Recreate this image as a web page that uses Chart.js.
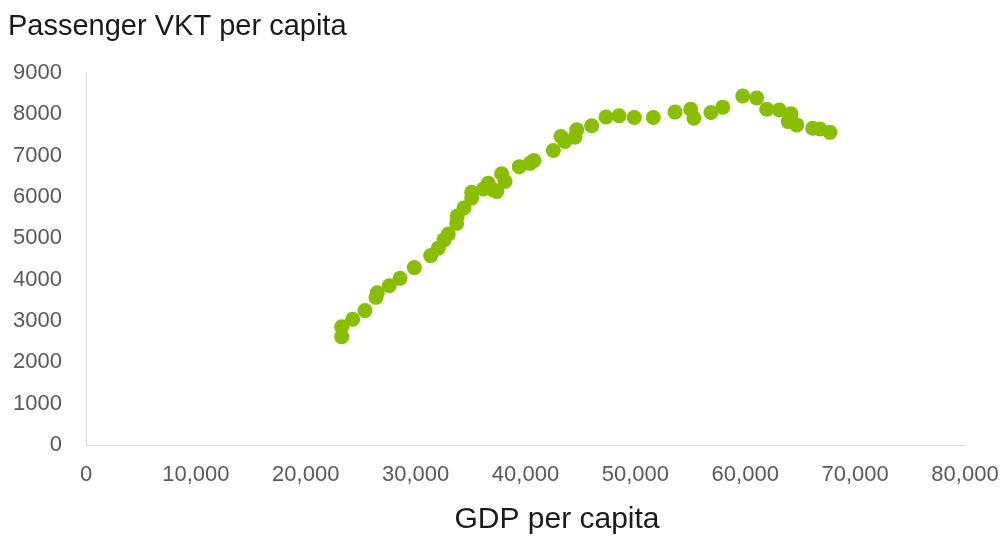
<!DOCTYPE html>
<html>
<head>
<meta charset="utf-8">
<script src="https://cdn.jsdelivr.net/npm/chart.js@4"></script>
<style>
    html, body { margin: 0; padding: 0; background: #fff; }
    #wrap { width: 1005px; height: 538px; }
</style>
</head>
<body>
<div id="wrap"><canvas id="vkt-chart"></canvas></div>
<script>
// GDP per capita (x) and passenger VKT per capita (y)
const gdpPerCapita = [
    23270, 23270, 24270, 25390, 26390, 26510, 27600, 28580, 29880, 31370,
    32060, 32580, 32970, 33740, 33790, 34400, 35100, 35100, 36160, 36610,
    37070, 37380, 37830, 38130, 39440, 40410, 40770, 42530, 43230, 43590,
    44500, 44660, 46020, 47330, 48510, 49900, 51630, 53610, 55030, 55330,
    56880, 57950, 59770, 61040, 61950, 63100, 64160, 63920, 64680, 66140,
    66800, 67710
];
const vktPerCapita = [
    2620, 2860, 3040, 3250, 3570, 3680, 3850, 4030, 4290, 4580,
    4760, 4960, 5100, 5360, 5540, 5730, 5970, 6110, 6190, 6330,
    6170, 6130, 6560, 6370, 6730, 6810, 6880, 7120, 7460, 7340,
    7440, 7620, 7720, 7930, 7960, 7920, 7920, 8050, 8120, 7900,
    8040, 8170, 8440, 8390, 8120, 8100, 8010, 7820, 7740, 7660,
    7640, 7560
];

const xTitle = 'GDP per capita';
const yTitle = 'Passenger VKT per capita';

const tickColor = '#595959';
const axisColor = '#d9d9d9';
const fontFamily = '"Liberation Sans", Arial, sans-serif';

// x axis title sits a little right of the plot centre in the original
const xTitlePlugin = {
    id: 'xTitle',
    afterDraw(chart) {
        const ctx = chart.ctx;
        ctx.save();
        ctx.font = '30px ' + fontFamily;
        ctx.fillStyle = '#1a1a1a';
        ctx.textAlign = 'center';
        ctx.textBaseline = 'middle';
        ctx.fillText(xTitle, 557, 520);
        ctx.restore();
    }
};

const points = gdpPerCapita.map((x, i) => ({ x: x, y: vktPerCapita[i] }));

new Chart(document.getElementById('vkt-chart'), {
    type: 'scatter',
    data: {
        datasets: [{
            data: points,
            backgroundColor: '#88bd00',
            borderWidth: 0,
            pointRadius: 7.5,
            pointHoverRadius: 7.5
        }]
    },
    options: {
        responsive: true,
        maintainAspectRatio: false,
        animation: false,
        layout: { padding: { top: 0, left: 8, right: 0, bottom: 0 } },
        plugins: {
            legend: { display: false },
            tooltip: { enabled: false },
            title: {
                display: true,
                text: yTitle,
                align: 'start',
                color: '#1a1a1a',
                font: { family: fontFamily, size: 29, weight: 'normal' },
                padding: { top: 10, bottom: 28 }
            }
        },
        scales: {
            x: {
                type: 'linear',
                min: 0,
                max: 80000,
                grid: { display: false, drawTicks: false },
                border: { display: true, color: axisColor, width: 1 },
                ticks: {
                    stepSize: 10000,
                    color: tickColor,
                    padding: 17,
                    maxRotation: 0,
                    font: { family: fontFamily, size: 22 },
                    callback: v => v.toLocaleString('en-US')
                },
                afterFit: scale => {
                    scale.height = 93;
                    scale.paddingRight = 40;
                }
            },
            y: {
                min: 0,
                max: 9000,
                grid: { display: false, drawTicks: false },
                border: { display: true, color: axisColor, width: 1 },
                ticks: {
                    stepSize: 1000,
                    color: tickColor,
                    padding: 24,
                    font: { family: fontFamily, size: 22 },
                    callback: v => String(v)
                },
                afterFit: scale => { scale.width = 78; }
            }
        }
    },
    plugins: [xTitlePlugin]
});
</script>
</body>
</html>
